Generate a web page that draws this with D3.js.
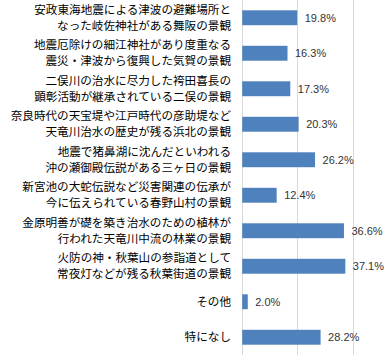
<!DOCTYPE html>
<html><head><meta charset="utf-8">
<script src="https://cdn.jsdelivr.net/npm/d3@7"></script>
<style>body{margin:0;background:#fff;}svg{display:block;}</style>
</head><body>
<svg id="c" width="391" height="358"></svg>
<script>
const categories = [
  ["安政東海地震による津波の避難場所と","なった岐佐神社がある舞阪の景観"],
  ["地震厄除けの細江神社があり度重なる","震災・津波から復興した気賀の景観"],
  ["二俣川の治水に尽力した袴田喜長の","顕彰活動が継承されている二俣の景観"],
  ["奈良時代の天宝堤や江戸時代の彦助堤など","天竜川治水の歴史が残る浜北の景観"],
  ["地震で猪鼻湖に沈んだといわれる","沖の瀬御殿伝説がある三ヶ日の景観"],
  ["新宮池の大蛇伝説など災害関連の伝承が","今に伝えられている春野山村の景観"],
  ["金原明善が礎を築き治水のための植林が","行われた天竜川中流の林業の景観"],
  ["火防の神・秋葉山の参詣道として","常夜灯などが残る秋葉街道の景観"],
  ["その他"],
  ["特になし"]
];
const values = [19.8, 16.3, 17.3, 20.3, 26.2, 12.4, 36.6, 37.1, 2.0, 28.2];
const xTicks = [0, 20, 40];

const svg = d3.select("#c");
const x0 = 241.7, xPer = 2.78;
const x = d3.scaleLinear().domain([0, 40]).range([x0, x0 + 40 * xPer]);
const y = d3.scaleBand().domain(d3.range(categories.length)).range([0, 355]).paddingInner(0.58).paddingOuter(0.29);

// gridlines
svg.selectAll("line.grid").data(xTicks).join("line")
  .attr("x1", d => Math.round(x(d)) + 0.5).attr("x2", d => Math.round(x(d)) + 0.5)
  .attr("y1", 0).attr("y2", 355)
  .attr("stroke", "#d9d9d9").attr("stroke-width", 1);

// bars
svg.selectAll("rect.bar").data(values).join("rect")
  .attr("x", x(0) + 0.5).attr("y", (d, i) => y(i))
  .attr("width", d => x(d) - x(0)).attr("height", y.bandwidth())
  .attr("fill", "#4f81bd");

// value labels
svg.selectAll("text.val").data(values).join("text")
  .attr("x", d => x(d) + 8).attr("y", (d, i) => y(i) + y.bandwidth() / 2)
  .attr("dy", "0.35em")
  .attr("font-family", "Liberation Sans, Arial, sans-serif").attr("font-size", 11)
  .attr("fill", "#333")
  .text(d => d.toFixed(1) + "%");

// category labels
const g = svg.selectAll("text.cat").data(categories).join("text")
  .attr("text-anchor", "end")
  .attr("font-family", "Noto Sans CJK JP, sans-serif").attr("font-size", 11.6)
  .attr("fill", "#000");
g.each(function(lines, i) {
  const cy = y(i) + y.bandwidth() / 2;
  const n = lines.length;
  d3.select(this).selectAll("tspan").data(lines).join("tspan")
    .attr("x", 231)
    .attr("y", (l, j) => cy + (j - (n - 1) / 2) * 16)
    .attr("dy", "0.35em")
    .text(l => l);
});
</script>
</body></html>
